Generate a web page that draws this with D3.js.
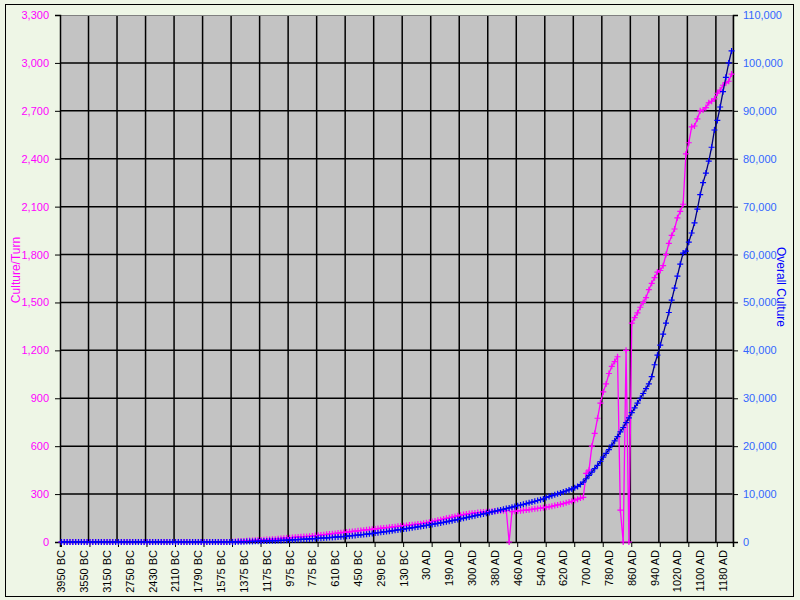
<!DOCTYPE html>
<html><head><meta charset="utf-8">
<script src="https://cdn.jsdelivr.net/npm/d3@7"></script>
<style>body{margin:0;background:#fff}svg{display:block}</style>
</head><body><svg id="c" width="800" height="600"></svg>
<script>
const tickLabels = ["3950 BC","3550 BC","3150 BC","2750 BC","2430 BC","2110 BC","1790 BC","1575 BC","1375 BC","1175 BC","975 BC","775 BC","610 BC","450 BC","290 BC","130 BC","30 AD","190 AD","300 AD","380 AD","460 AD","540 AD","620 AD","700 AD","780 AD","860 AD","940 AD","1020 AD","1100 AD","1180 AD"];
const cultureTurn = [].concat(
 new Array(60).fill(0),
 [2,3,4,5,6,8,9,10,11,12],
 [13,14,15,16,17,18,20,22,24,25],
 [26,28,30,32,33,34,35,36,38,40],
 [42,44,46,48,50,52,54,56,58,60],
 [62,64,66,68,70,72,74,76,78,80],
 [82,84,86,88,90,92,94,96,98,100],
 [102,104,106,108,110,112,115,118,120,124],
 [128,132,136,140,144,148,152,156,160,164],
 [168,172,175,178,180,182,184,186,188,190],
 [190,192,192,194,195,195,196,0,190,192],
 [194,196,198,200,202,205,208,210,212,215],
 [218,220,224,228,232,236,240,245,250,255],
 [262,268,275,280,430,450,600,680,775,870],
 [940,990,1055,1100,1130,1160,200,0,1200,0],
 [1370,1405,1435,1470,1500,1530,1580,1620,1655,1690],
 [1700,1730,1800,1870,1920,1960,2030,2070,2115,2430],
 [2500,2600,2605,2650,2700,2705,2720,2750,2760,2775],
 [2810,2830,2860,2875,2885,2930]
);
const overallCulture = [].concat(
 new Array(60).fill(0),
 [10,20,30,40,60,80,100,120,140,160],
 [180,200,220,240,260,280,300,330,360,390],
 [420,450,480,510,540,570,600,640,680,720],
 [760,800,840,880,920,960,1000,1050,1100,1150],
 [1200,1260,1320,1380,1440,1500,1570,1640,1710,1780],
 [1860,1940,2020,2100,2180,2260,2340,2430,2520,2610],
 [2700,2790,2880,2970,3060,3150,3250,3350,3450,3550],
 [3660,3770,3880,3990,4100,4220,4340,4460,4580,4700],
 [4830,4960,5090,5220,5350,5480,5610,5740,5870,6000],
 [6140,6280,6420,6560,6700,6840,6980,7120,7270,7420],
 [7570,7720,7870,8020,8180,8340,8500,8660,8820,8980],
 [9300,9480,9660,9850,10050,10250,10450,10650,10860,11080],
 [11300,11600,12000,12500,13200,13900,14600,15300,16000,16800],
 [17700,18500,19300,20200,21100,22000,23000,23900,24900,25900],
 [27000,28000,29000,30000,31000,32000,33000,34500,37000,39000],
 [41100,43400,45700,47900,50500,53000,55500,58000,60300,60700],
 [62600,64500,66600,69500,72500,75000,77000,79500,82400,86000],
 [88000,90800,94000,97000,100000,102500]
);
const leftTicks = d3.range(0,3301,300);
const rightTicks = d3.range(0,110001,10000);

const svg = d3.select("#c");
const L=60,R=733,T=15,B=542;
const N = cultureTurn.length;
svg.append("rect").attr("x",0).attr("y",0).attr("width",800).attr("height",600).attr("fill","#eef6e6");
svg.append("rect").attr("x",5.5).attr("y",4.5).attr("width",788).attr("height",592).attr("fill","none").attr("stroke","#000");
const x = d3.scaleBand().domain(d3.range(N)).range([L,R]);
const yL = d3.scaleLinear().domain([0,3300]).range([B,T]);
const yR = d3.scaleLinear().domain([0,110000]).range([B,T]);
svg.append("rect").attr("x",L).attr("y",T).attr("width",R-L).attr("height",B-T).attr("fill","#c3c3c3");
// gridlines
const g = svg.append("g").attr("stroke","#000").attr("stroke-width",1.5);
leftTicks.slice(1,-1).forEach(t=>g.append("line").attr("x1",L).attr("x2",R).attr("y1",yL(t)).attr("y2",yL(t)));
d3.range(10,N,10).forEach(i=>g.append("line").attr("x1",x(i)).attr("x2",x(i)).attr("y1",T).attr("y2",B));
svg.append("line").attr("x1",L).attr("x2",R).attr("y1",T+0.5).attr("y2",T+0.5).attr("stroke","#808080");
svg.append("line").attr("x1",R).attr("x2",R).attr("y1",T).attr("y2",B).attr("stroke","#808080");
const font="Liberation Sans, Arial, sans-serif";
// axes
const axL = svg.append("g").attr("transform",`translate(${L},0)`).call(d3.axisLeft(yL).tickValues(leftTicks).tickSize(5).tickPadding(6));
axL.selectAll("text").attr("fill","#ff00ff").style("font-family",font).style("font-size","11px");
const axR = svg.append("g").attr("transform",`translate(${R},0)`).call(d3.axisRight(yR).tickValues(rightTicks).tickSize(5).tickPadding(5));
axR.selectAll("text").attr("fill","#3366ff").style("font-family",font).style("font-size","11px");
const axB = svg.append("g").attr("transform",`translate(0,${B})`).call(
  d3.axisBottom(x).tickValues(d3.range(0,N,10)).tickSize(5).tickFormat(()=>""));
[axL,axR,axB].forEach(a=>{a.select(".domain").attr("stroke","#000").attr("stroke-width",1.5);a.selectAll("line").attr("stroke","#000");});
const lab = svg.append("g");
tickLabels.forEach((t,k)=>{
  const cx = x(k*8)+x.bandwidth()/2;
  lab.append("text").attr("transform",`translate(${cx+4},${B+8}) rotate(-90)`).attr("text-anchor","end")
   .style("font-family",font).style("font-size","11px").attr("fill","#000").text(t);
});
// titles
svg.append("text").attr("transform","translate(20,270) rotate(-90)").attr("text-anchor","middle").attr("fill","#ff00ff")
  .style("font-family",font).style("font-size","12px").text("Culture/Turn");
svg.append("text").attr("transform","translate(777,287) rotate(90)").attr("text-anchor","middle").attr("fill","#0000ff")
  .style("font-family",font).style("font-size","12px").text("Overall Culture");
const cx = i=>x(i)+x.bandwidth()/2;
function series(data,y,lineC,markC){
  svg.append("path").datum(data).attr("fill","none").attr("stroke",lineC).attr("stroke-width",1.3)
    .attr("d",d3.line().x((d,i)=>cx(i)).y(d=>y(d)));
  svg.append("g").selectAll("path").data(data).join("path")
    .attr("d",(d,i)=>`M${cx(i)-3},${y(d)}h6M${cx(i)},${y(d)-3}v6`).attr("stroke",markC).attr("stroke-width",1.2);
}
series(cultureTurn,yL,"#ff00ff","#ff00ff");
series(overallCulture,yR,"#000080","#0000ff");
</script></body></html>
